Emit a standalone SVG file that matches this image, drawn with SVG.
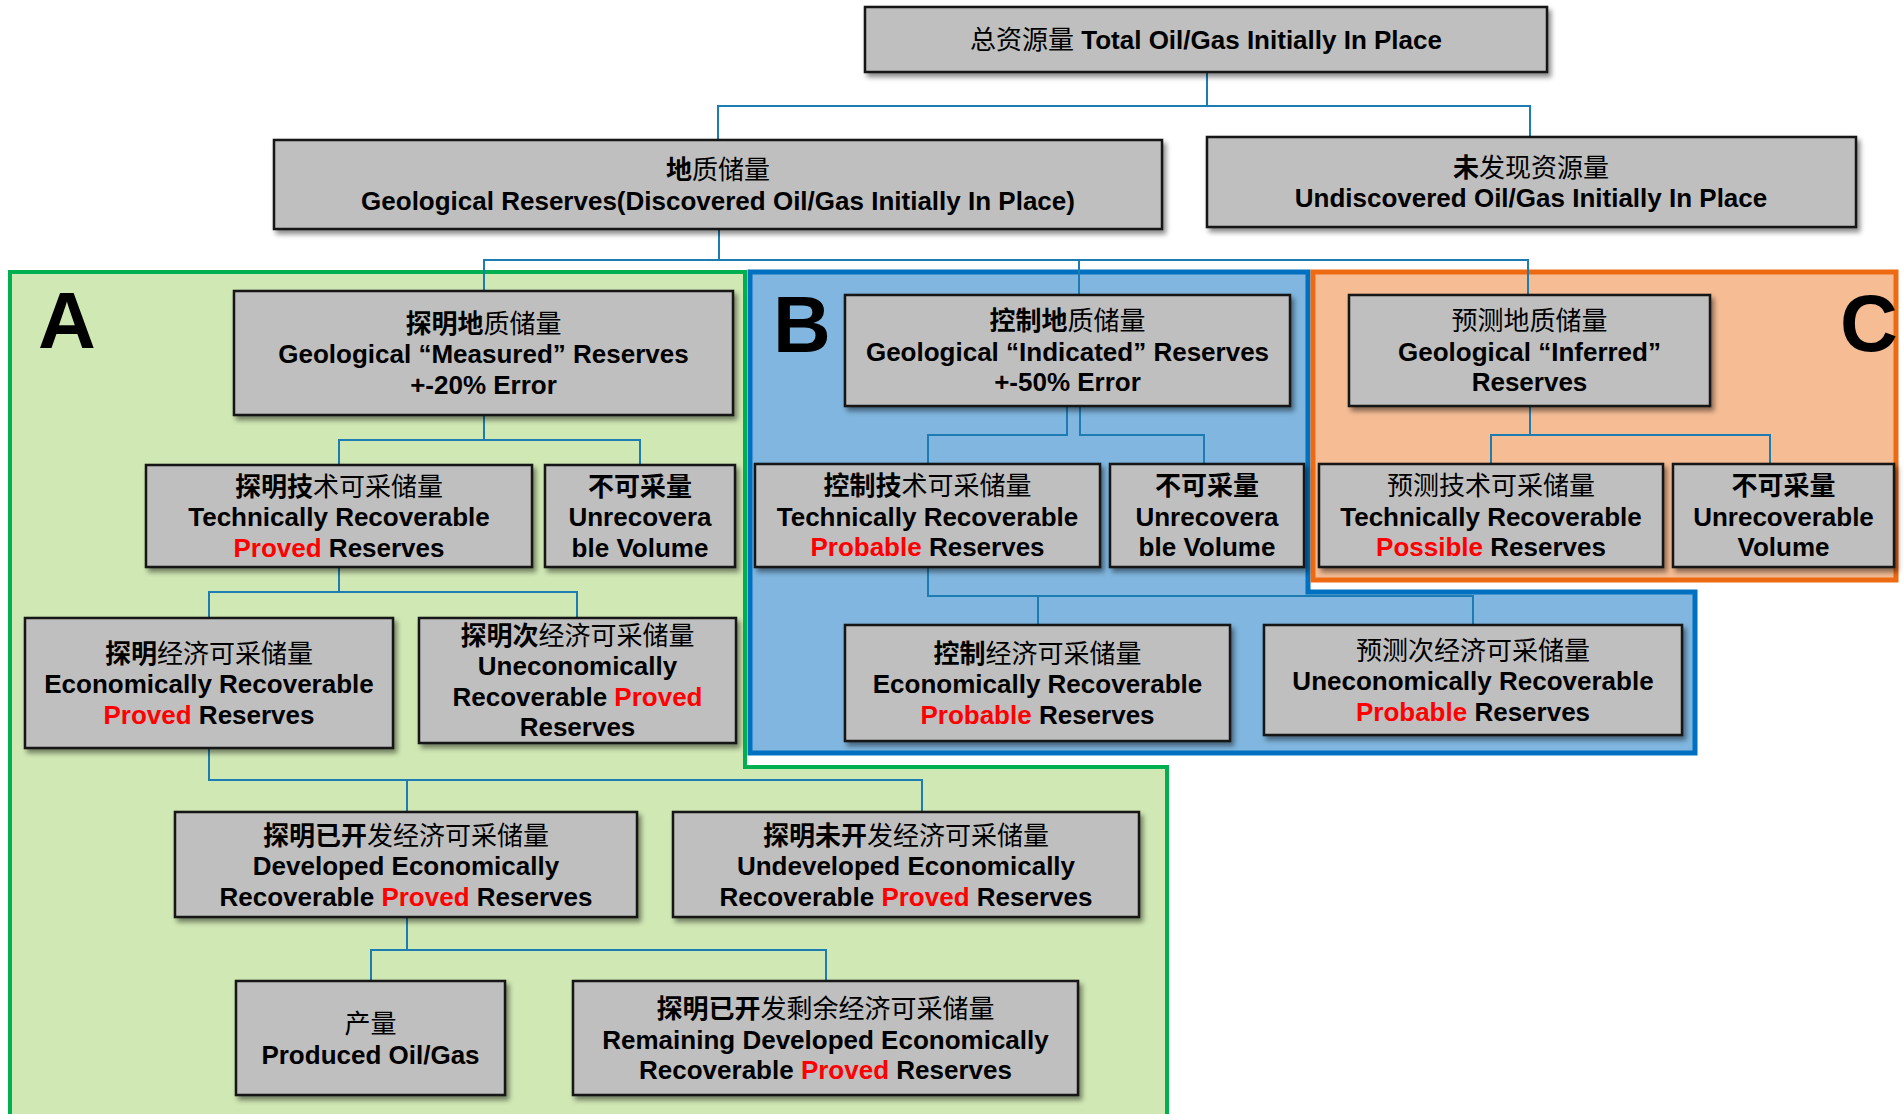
<svg xmlns="http://www.w3.org/2000/svg" width="1904" height="1114" viewBox="0 0 1904 1114">
<defs>
<filter id="sh" x="-10%" y="-10%" width="125%" height="135%">
<feDropShadow dx="3" dy="4" stdDeviation="2.5" flood-color="#000" flood-opacity="0.45"/>
</filter>
<style>
.box{fill:#BFBFBF;stroke:#141414;stroke-width:2.5;filter:url(#sh)}
.t{font-family:"Liberation Sans","Noto Sans CJK SC",sans-serif;font-size:26px;font-weight:700;text-anchor:middle;fill:#000}
.n{font-weight:400}
.r{fill:#FF0000}
.big{font-family:"Liberation Sans",sans-serif;font-size:80px;font-weight:700;fill:#000}
.con{fill:none;stroke:#1D7DB2;stroke-width:2}
</style>
</defs>
<rect width="1904" height="1114" fill="#FFFFFF"/>

<g id="regions">
<polygon points="10,272 745,272 745,767 1167,767 1167,1130 10,1130" fill="#D0E8B4" stroke="#00B050" stroke-width="4"/>
<polygon points="750,272 1308,272 1308,592 1695,592 1695,753 750,753" fill="#80B6DF" stroke="#0070C0" stroke-width="5"/>
<rect x="1313" y="272" width="583" height="308" fill="#F6BD95" stroke="#EE6A12" stroke-width="5"/>
<text class="big" x="38" y="348">A</text>
<text class="big" x="773" y="352">B</text>
<text class="big" x="1840" y="351">C</text>
</g>

<g id="connectors">
<polyline class="con" points="1207,72 1207,106 718,106 718,140"/>
<polyline class="con" points="1207,106 1530,106 1530,137"/>
<polyline class="con" points="719,229 719,260 484,260 484,291"/>
<polyline class="con" points="719,260 1528,260 1528,295"/>
<line class="con" x1="1079" y1="260" x2="1079" y2="295"/>
<polyline class="con" points="484,415 484,440 339,440 339,465"/>
<polyline class="con" points="484,440 640,440 640,465"/>
<polyline class="con" points="339,567 339,592 209,592 209,618"/>
<polyline class="con" points="339,592 577,592 577,618"/>
<polyline class="con" points="209,748 209,780 922,780 922,812"/>
<line class="con" x1="407" y1="780" x2="407" y2="812"/>
<polyline class="con" points="407,917 407,950 371,950 371,981"/>
<polyline class="con" points="407,950 826,950 826,981"/>
<polyline class="con" points="1067,406 1067,435 928,435 928,464"/>
<polyline class="con" points="1080,406 1080,435 1204,435 1204,464"/>
<polyline class="con" points="928,567 928,596 1473,596 1473,625"/>
<line class="con" x1="1038" y1="596" x2="1038" y2="625"/>
<polyline class="con" points="1530,406 1530,435 1491,435 1491,464"/>
<polyline class="con" points="1530,435 1770,435 1770,464"/>
</g>

<g id="n-total">
<rect class="box" x="865" y="7" width="682" height="65"/>
<text class="t" x="1206" y="49"><tspan class="n">总资源量</tspan> Total Oil/Gas Initially In Place</text>
</g>

<g id="n-geo">
<rect class="box" x="274" y="140" width="888" height="89"/>
<text class="t" x="718" y="179">地<tspan class="n">质储量</tspan></text>
<text class="t" x="718" y="209.5">Geological Reserves(Discovered Oil/Gas Initially In Place)</text>
</g>

<g id="n-undisc">
<rect class="box" x="1207" y="137" width="649" height="90"/>
<text class="t" x="1531" y="176.5">未<tspan class="n">发现资源量</tspan></text>
<text class="t" x="1531" y="207">Undiscovered Oil/Gas Initially In Place</text>
</g>

<g id="a-measured">
<rect class="box" x="234" y="291" width="499" height="124"/>
<text class="t" x="483.5" y="332.5">探明地<tspan class="n">质储量</tspan></text>
<text class="t" x="483.5" y="363">Geological “Measured” Reserves</text>
<text class="t" x="483.5" y="393.5">+-20% Error</text>
</g>

<g id="a-tech">
<rect class="box" x="146" y="465" width="386" height="102"/>
<text class="t" x="339" y="495.5">探明技<tspan class="n">术可采储量</tspan></text>
<text class="t" x="339" y="526">Technically Recoverable</text>
<text class="t" x="339" y="556.5"><tspan class="r">Proved</tspan> Reserves</text>
</g>

<g id="a-unrec">
<rect class="box" x="545" y="465" width="190" height="102"/>
<text class="t" x="640" y="495.5">不可采量</text>
<text class="t" x="640" y="526">Unrecovera</text>
<text class="t" x="640" y="556.5">ble Volume</text>
</g>

<g id="a-econ">
<rect class="box" x="25" y="618" width="368" height="130"/>
<text class="t" x="209" y="662.5">探明<tspan class="n">经济可采储量</tspan></text>
<text class="t" x="209" y="693">Economically Recoverable</text>
<text class="t" x="209" y="723.5"><tspan class="r">Proved</tspan> Reserves</text>
</g>

<g id="a-unecon">
<rect class="box" x="419" y="618" width="317" height="125"/>
<text class="t" x="577.5" y="644.5">探明次<tspan class="n">经济可采储量</tspan></text>
<text class="t" x="577.5" y="675">Uneconomically</text>
<text class="t" x="577.5" y="705.5">Recoverable <tspan class="r">Proved</tspan></text>
<text class="t" x="577.5" y="736">Reserves</text>
</g>

<g id="a-dev">
<rect class="box" x="175" y="812" width="462" height="105"/>
<text class="t" x="406" y="844.5">探明已开<tspan class="n">发经济可采储量</tspan></text>
<text class="t" x="406" y="875">Developed Economically</text>
<text class="t" x="406" y="905.5">Recoverable <tspan class="r">Proved</tspan> Reserves</text>
</g>

<g id="a-undev">
<rect class="box" x="673" y="812" width="466" height="105"/>
<text class="t" x="906" y="844.5">探明未开<tspan class="n">发经济可采储量</tspan></text>
<text class="t" x="906" y="875">Undeveloped Economically</text>
<text class="t" x="906" y="905.5">Recoverable <tspan class="r">Proved</tspan> Reserves</text>
</g>

<g id="a-produced">
<rect class="box" x="236" y="981" width="269" height="114"/>
<text class="t" x="370.5" y="1033"><tspan class="n">产量</tspan></text>
<text class="t" x="370.5" y="1064">Produced Oil/Gas</text>
</g>

<g id="a-remaining">
<rect class="box" x="573" y="981" width="505" height="114"/>
<text class="t" x="825.5" y="1018">探明已开<tspan class="n">发剩余经济可采储量</tspan></text>
<text class="t" x="825.5" y="1048.5">Remaining Developed Economically</text>
<text class="t" x="825.5" y="1079">Recoverable <tspan class="r">Proved</tspan> Reserves</text>
</g>

<g id="b-indicated">
<rect class="box" x="845" y="295" width="445" height="111"/>
<text class="t" x="1067.5" y="330">控制地<tspan class="n">质储量</tspan></text>
<text class="t" x="1067.5" y="360.5">Geological “Indicated” Reserves</text>
<text class="t" x="1067.5" y="391">+-50% Error</text>
</g>

<g id="b-tech">
<rect class="box" x="755" y="464" width="345" height="103"/>
<text class="t" x="927.5" y="495">控制技<tspan class="n">术可采储量</tspan></text>
<text class="t" x="927.5" y="525.5">Technically Recoverable</text>
<text class="t" x="927.5" y="556"><tspan class="r">Probable</tspan> Reserves</text>
</g>

<g id="b-unrec">
<rect class="box" x="1110" y="464" width="194" height="103"/>
<text class="t" x="1207" y="495">不可采量</text>
<text class="t" x="1207" y="525.5">Unrecovera</text>
<text class="t" x="1207" y="556">ble Volume</text>
</g>

<g id="b-econ">
<rect class="box" x="845" y="625" width="385" height="116"/>
<text class="t" x="1037.5" y="662.5">控制<tspan class="n">经济可采储量</tspan></text>
<text class="t" x="1037.5" y="693">Economically Recoverable</text>
<text class="t" x="1037.5" y="723.5"><tspan class="r">Probable</tspan> Reserves</text>
</g>

<g id="b-unecon">
<rect class="box" x="1264" y="625" width="418" height="110"/>
<text class="t" x="1473" y="659.5"><tspan class="n">预测次经济可采储量</tspan></text>
<text class="t" x="1473" y="690">Uneconomically Recoverable</text>
<text class="t" x="1473" y="720.5"><tspan class="r">Probable</tspan> Reserves</text>
</g>

<g id="c-inferred">
<rect class="box" x="1349" y="295" width="361" height="111"/>
<text class="t" x="1529.5" y="330"><tspan class="n">预测地质储量</tspan></text>
<text class="t" x="1529.5" y="360.5">Geological “Inferred”</text>
<text class="t" x="1529.5" y="391">Reserves</text>
</g>

<g id="c-tech">
<rect class="box" x="1319" y="464" width="344" height="103"/>
<text class="t" x="1491" y="495"><tspan class="n">预测技术可采储量</tspan></text>
<text class="t" x="1491" y="525.5">Technically Recoverable</text>
<text class="t" x="1491" y="556"><tspan class="r">Possible</tspan> Reserves</text>
</g>

<g id="c-unrec">
<rect class="box" x="1673" y="464" width="221" height="103"/>
<text class="t" x="1783.5" y="495">不可采量</text>
<text class="t" x="1783.5" y="525.5">Unrecoverable</text>
<text class="t" x="1783.5" y="556">Volume</text>
</g>
</svg>
